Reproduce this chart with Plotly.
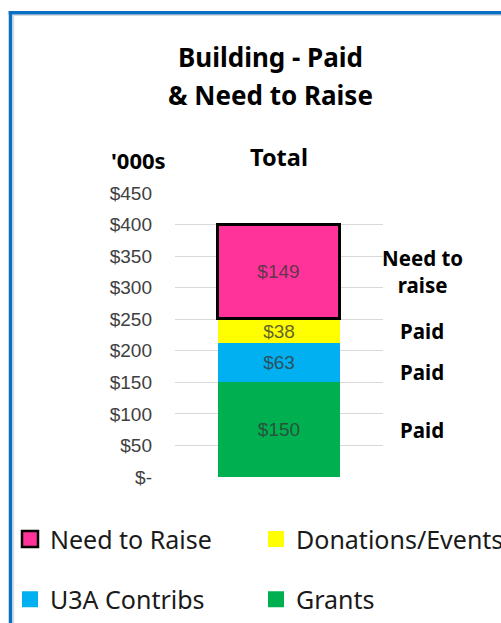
import plotly.graph_objects as go

# ---- data ----
categories = ["Grants", "U3A Contribs", "Donations/Events", "Need to Raise"]
values = [150, 63, 38, 149]
status_labels = ["Paid", "Paid", "Paid", "Need to<br>raise"]
x_category = ["Total"]
tick_values = [0, 50, 100, 150, 200, 250, 300, 350, 400, 450]
tick_labels = ["$-", "$50", "$100", "$150", "$200", "$250", "$300", "$350", "$400", "$450"]
colors = ["#00B050", "#00B0F0", "#FFFF00", "#FF3399"]
legend_order = ["Need to Raise", "Donations/Events", "U3A Contribs", "Grants"]

# figure fills the page (body margin removed by post_script)
FW, FH = 501, 623
L, R, T, B = 175, FW - 383, 193, FH - 476.7
PW, PH = FW - L - R, FH - T - B


def xp(px):
    return (px - L) / PW


def yp(py):
    return (FH - B - py) / PH


BOLD = "Noto Sans"
fig = go.Figure()

for cat, val, col in zip(categories, values, colors):
    is_need = cat == "Need to Raise"
    fig.add_trace(go.Bar(
        x=x_category, y=[val], name=cat,
        marker=dict(color=col, line=dict(color="black" if is_need else col, width=3 if is_need else 0)),
        text=[f"${val}"], textposition="inside", insidetextanchor="middle",
        textfont=dict(family="Liberation Sans", size=19, color="rgba(55,55,55,0.8)"),
        constraintext="none", width=0.587, showlegend=False, hoverinfo="skip",
    ))

# legend entries: one legend per entry so each can be placed like the reference
legend_pos = {  # (left x, centre y) in page pixels
    "Need to Raise": (10, 539),
    "Donations/Events": (256, 539),
    "U3A Contribs": (10, 599),
    "Grants": (256, 599),
}
legend_layout = {}
for k, cat in enumerate(legend_order):
    idx = categories.index(cat)
    is_need = cat == "Need to Raise"
    lname = "legend" if k == 0 else f"legend{k + 1}"
    fig.add_trace(go.Scatter(
        x=[None], y=[None], mode="markers", name=cat,
        marker=dict(symbol="square", size=16, color=colors[idx],
                    line=dict(color="black" if is_need else colors[idx], width=2.5 if is_need else 0)),
        legend=lname, hoverinfo="skip",
    ))
    lx, ly = legend_pos[cat]
    legend_layout[lname] = dict(
        x=xp(lx), y=yp(ly), xanchor="left", yanchor="middle", orientation="h",
        bgcolor="rgba(0,0,0,0)", borderwidth=0,
        font=dict(family="Noto Sans", size=25, color="#1a1a1a"),
    )

# right-side status labels at segment centres
cum = 0
for i, (val, lab) in enumerate(zip(values, status_labels)):
    centre = cum + val / 2
    cum += val
    fig.add_annotation(
        x=xp(422), xref="paper", y=centre, yref="y", text=f"<b>{lab}</b>",
        showarrow=False, xanchor="center", yanchor="middle",
        yshift=-10 if categories[i] == "U3A Contribs" else 0,
        font=dict(family=BOLD, size=20.5, color="black"),
    )

# titles / headers
fig.add_annotation(x=xp(270), y=yp(57), xref="paper", yref="paper", text="<b>Building - Paid</b>",
                   showarrow=False, xanchor="center", yanchor="middle",
                   font=dict(family=BOLD, size=26, color="black"))
fig.add_annotation(x=xp(270), y=yp(95), xref="paper", yref="paper", text="<b>& Need to Raise</b>",
                   showarrow=False, xanchor="center", yanchor="middle",
                   font=dict(family=BOLD, size=26, color="black"))
fig.add_annotation(x=xp(279), y=yp(157), xref="paper", yref="paper", text="<b>Total</b>",
                   showarrow=False, xanchor="center", yanchor="middle",
                   font=dict(family=BOLD, size=23.5, color="black"))
fig.add_annotation(x=xp(138), y=yp(160), xref="paper", yref="paper", text="<b>'000s</b>",
                   showarrow=False, xanchor="center", yanchor="middle",
                   font=dict(family=BOLD, size=22, color="black"))

# blue frame (left + top edges)
fig.add_shape(type="line", xref="paper", yref="paper", x0=xp(13.5), x1=xp(13.5), y0=yp(15), y1=yp(640),
              line=dict(color="#D9D9D9", width=1.5))
fig.add_shape(type="line", xref="paper", yref="paper", x0=xp(13.5), x1=xp(520), y0=yp(15.5), y1=yp(15.5),
              line=dict(color="#D9D9D9", width=1.5))
fig.add_shape(type="line", xref="paper", yref="paper", x0=xp(10.5), x1=xp(10.5), y0=yp(11.3), y1=yp(640),
              line=dict(color="#0A6FC4", width=3.5))
fig.add_shape(type="line", xref="paper", yref="paper", x0=xp(8.7), x1=xp(520), y0=yp(13), y1=yp(13),
              line=dict(color="#0A6FC4", width=3.5))

fig.update_layout(
    width=FW, height=FH, margin=dict(l=L, r=R, t=T, b=B, autoexpand=False),
    paper_bgcolor="white", plot_bgcolor="white",
    barmode="stack", bargap=0,
    showlegend=True,
    xaxis=dict(visible=False, range=[-0.5, 0.5], type="category"),
    yaxis=dict(range=[0, 450], tickvals=tick_values, ticktext=tick_labels,
               showgrid=True, gridcolor="#D9D9D9", gridwidth=1, zeroline=False,
               showline=False, ticks="", ticklabelstandoff=22,
               tickfont=dict(family="Liberation Sans", size=19, color="#404040"),
               fixedrange=True),
    **legend_layout,
)

fig.write_html("out.html", config={"displayModeBar": False},
               post_script="document.body.style.margin='0';document.body.style.overflow='hidden';")
